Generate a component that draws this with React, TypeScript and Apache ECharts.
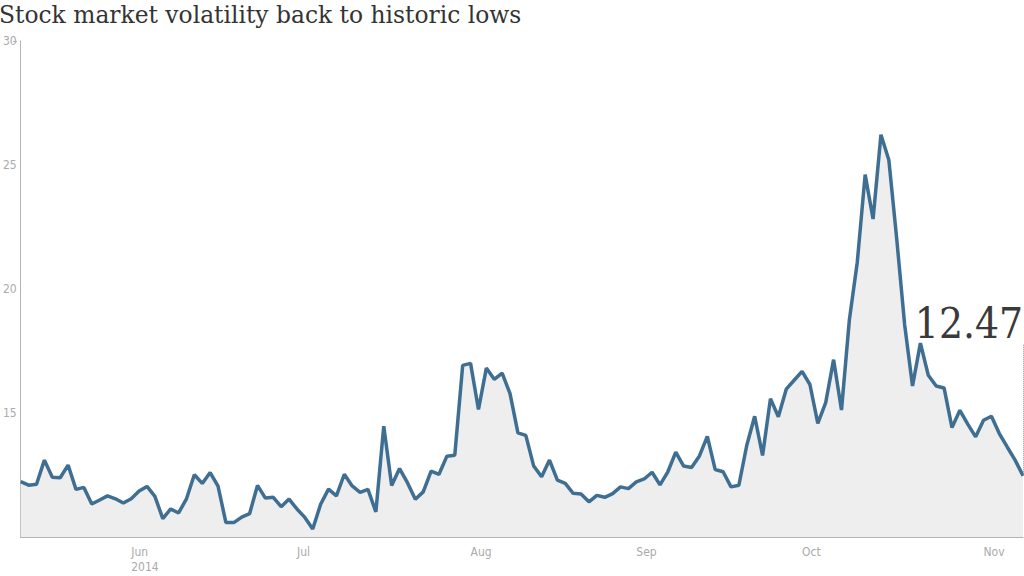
import React, { useEffect, useRef } from "react";
import * as echarts from "echarts";

// VIX daily values, trading days from 2014-05-12 to 2014-11-10
const vix: number[] = [
  12.23, 12.09, 12.13, 13.1, 12.41, 12.39, 12.9, 11.92, 12.0, 11.33,
  11.49, 11.66, 11.54, 11.37, 11.54, 11.85, 12.04, 11.64, 10.74, 11.13,
  10.97, 11.54, 12.51, 12.16, 12.6, 12.05, 10.58, 10.58, 10.8, 10.94,
  12.08, 11.57, 11.6, 11.22, 11.53, 11.13, 10.79, 10.32, 11.32, 11.93,
  11.66, 12.53, 12.06, 11.8, 11.92, 11.01, 14.47, 12.08, 12.76, 12.19,
  11.52, 11.82, 12.66, 12.53, 13.26, 13.3, 16.92, 17.0, 15.14, 16.81,
  16.36, 16.61, 15.78, 14.2, 14.1, 12.86, 12.43, 13.1, 12.29, 12.16,
  11.76, 11.73, 11.42, 11.68, 11.6, 11.75, 12.02, 11.95, 12.22, 12.34,
  12.61, 12.1, 12.63, 13.42, 12.86, 12.8, 13.27, 14.06, 12.72, 12.63,
  12.02, 12.09, 13.7, 14.87, 13.29, 15.58, 14.85, 15.96, 16.32, 16.68,
  16.15, 14.58, 15.42, 17.15, 15.12, 18.76, 21.08, 24.61, 22.82, 26.22,
  25.2, 22.02, 18.57, 16.09, 17.82, 16.52, 16.09, 16.01, 14.41, 15.11,
  14.55, 14.04, 14.71, 14.87, 14.17, 13.63, 13.1, 12.47,
];

const startDate = [2014, 4, 12]; // 2014-05-12
const holidays: string[] = ["2014-05-26", "2014-07-04", "2014-09-01"];
const monthNames: string[] = ["Jan", "Feb", "Mar", "Apr", "May", "Jun", "Jul", "Aug", "Sep", "Oct", "Nov", "Dec"];
const yTicks = { min: 10, max: 30, interval: 5 };
const annotationTop = 17.78;
const titleText = "Stock market volatility back to historic lows";

function pad(n: number) {
  return n < 10 ? "0" + n : String(n);
}

function buildDays(count: number): string[] {
  const out: string[] = [];
  const d = new Date(startDate[0], startDate[1], startDate[2]);
  while (out.length < count) {
    const key = `${d.getFullYear()}-${pad(d.getMonth() + 1)}-${pad(d.getDate())}`;
    const wd = d.getDay();
    if (wd !== 0 && wd !== 6 && holidays.indexOf(key) < 0) out.push(key);
    d.setDate(d.getDate() + 1);
  }
  return out;
}

const categories = buildDays(vix.length);
const monthStarts: number[] = categories
  .map((c, i) => (i > 0 && c.slice(5, 7) !== categories[i - 1].slice(5, 7) ? i : -1))
  .filter((i) => i >= 0);

export default function App() {
  const ref = useRef<HTMLDivElement>(null);
  useEffect(() => {
    document.body.style.margin = "0";
    if (!ref.current) return;
    const chart = echarts.init(ref.current, null, { renderer: "svg" });
    const lastIdx = vix.length - 1;
    const lastVal = vix[lastIdx];
    const axisFont = "'DejaVu Sans Condensed', 'Liberation Sans Narrow', Roboto, sans-serif";
    const serifCond = "'DejaVu Serif Condensed', 'DejaVu Serif', serif";
    const serifFont = "'DejaVu Serif', serif";
    chart.setOption({
      animation: false,
      title: {
        text: titleText,
        left: -1,
        top: 3,
        padding: 0,
        textStyle: { fontFamily: serifFont, fontSize: 23.4, fontWeight: "normal", color: "#333333" },
      },
      grid: { left: 17, right: 1, top: 41, bottom: 39, containLabel: false },
      xAxis: {
        type: "category",
        data: categories,
        boundaryGap: false,
        axisLine: { show: true, lineStyle: { color: "#b3b3b3", width: 1 } },
        axisTick: { show: false },
        splitLine: { show: false },
        axisLabel: {
          interval: (idx: number) => monthStarts.indexOf(idx) >= 0,
          formatter: (val: string, idx: number) => {
            const m = monthNames[parseInt(val.slice(5, 7), 10) - 1];
            return idx === monthStarts[0] ? `${m}\n${val.slice(0, 4)}` : m;
          },
          align: "left",
          margin: 7,
          lineHeight: 15,
          color: "#aaaaaa",
          fontSize: 12,
          fontFamily: axisFont,
        },
      },
      yAxis: {
        type: "value",
        min: yTicks.min,
        max: yTicks.max,
        interval: yTicks.interval,
        axisLine: { show: true, lineStyle: { color: "#b3b3b3", width: 1 } },
        axisTick: { show: false },
        splitLine: { show: false },
        axisLabel: {
          showMinLabel: false,
          margin: 4,
          color: "#aaaaaa",
          fontSize: 12,
          fontFamily: axisFont,
        },
      },
      graphic: [
        {
          type: "line",
          shape: { x1: 13, y1: 41.5, x2: 17, y2: 41.5 },
          style: { stroke: "#b3b3b3", lineWidth: 1 },
          silent: true,
        },
      ],
      series: [
        {
          type: "line",
          data: vix,
          symbol: "none",
          showSymbol: false,
          lineStyle: { color: "#3e6e92", width: 3.5 },
          areaStyle: { color: "#eeeeee", opacity: 1 },
          markLine: {
            silent: true,
            symbol: ["none", "none"],
            lineStyle: { type: "dotted", color: "#9a9a9a", width: 1 },
            label: { show: false },
            data: [
              [
                { coord: [categories[lastIdx], lastVal] },
                { coord: [categories[lastIdx], annotationTop] },
              ],
            ],
          },
          markPoint: {
            silent: true,
            symbol: "circle",
            symbolSize: 0,
            data: [{ coord: [categories[lastIdx], annotationTop], value: lastVal }],
            label: {
              show: true,
              position: [0, 0],
              align: "right",
              verticalAlign: "bottom",
              formatter: () => lastVal.toFixed(2),
              fontSize: 42,
              fontFamily: serifCond,
              color: "#3a3a3a",
            },
          },
        },
      ],
    });
    return () => chart.dispose();
  }, []);
  return <div ref={ref} style={{ width: 1024, height: 576 }} />;
}
